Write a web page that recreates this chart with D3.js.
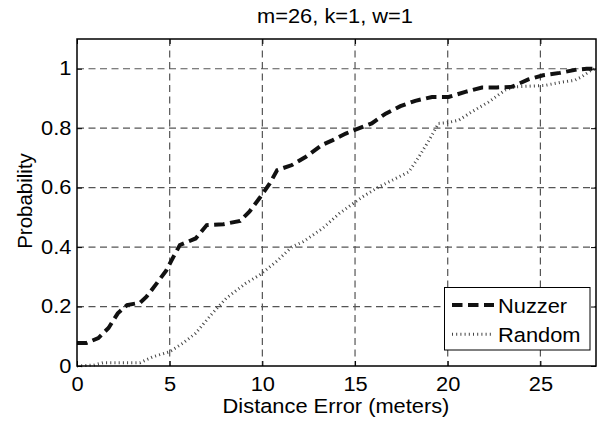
<!DOCTYPE html>
<html lang="en">
<head>
    <meta charset="UTF-8">
    <title>m=26, k=1, w=1</title>
    <style>
        body { margin: 0; background: #fff; }
        text { font-family: "Liberation Sans", Arial, sans-serif; fill: #000; }
        .grid line { stroke: #555; stroke-width: 1.2; stroke-dasharray: 7,4.5; }
    </style>
    <script src="https://d3js.org/d3.v7.min.js"></script>
</head>
<body>
    <svg width="608" height="425"></svg>
    <script>
        // Data
        const nuzzerX = [0, 0.5, 1.15, 1.7, 2.2, 2.7, 3.4, 3.75, 4.3, 4.8, 5.2, 5.55, 6.4, 7.0, 7.9, 8.8, 9.3, 9.85, 10.4, 10.8, 11.6, 12.35, 13.2, 13.8, 14.5, 15.2, 15.9, 16.65, 17.45, 18.25, 19.15, 20.05, 20.95, 21.85, 22.65, 23.45, 24.35, 25.15, 26.05, 26.95, 27.5, 28];
        const nuzzerY = [0.077, 0.077, 0.094, 0.128, 0.177, 0.205, 0.213, 0.233, 0.278, 0.32, 0.367, 0.407, 0.429, 0.474, 0.477, 0.488, 0.519, 0.565, 0.614, 0.659, 0.676, 0.704, 0.743, 0.76, 0.782, 0.799, 0.816, 0.849, 0.874, 0.892, 0.905, 0.905, 0.922, 0.937, 0.937, 0.939, 0.964, 0.978, 0.986, 0.997, 1.0, 1.0];

        const randomX = [0, 0.9, 1.4, 3.4, 4.1, 5.0, 5.7, 6.4, 7.3, 8.05, 9.1, 9.85, 10.75, 11.6, 12.2, 13.25, 14.15, 15.4, 16.3, 17.2, 17.9, 18.45, 19.0, 19.5, 19.95, 20.6, 21.3, 22.2, 23.1, 23.65, 25.25, 26.15, 26.85, 27.2, 27.75, 28];
        const randomY = [0, 0.003, 0.011, 0.011, 0.031, 0.048, 0.076, 0.11, 0.177, 0.228, 0.278, 0.306, 0.351, 0.401, 0.418, 0.463, 0.513, 0.569, 0.603, 0.631, 0.653, 0.704, 0.76, 0.816, 0.818, 0.827, 0.855, 0.888, 0.928, 0.939, 0.944, 0.955, 0.961, 0.972, 0.995, 1.0];

        const xTicks = [0, 5, 10, 15, 20, 25];
        const yTicks = [0, 0.2, 0.4, 0.6, 0.8, 1];
        const yTickLabels = ["0", "0.2", "0.4", "0.6", "0.8", "1"];

        const plotLeft = 77, plotRight = 596, plotTop = 39, plotBottom = 366;
        const fontSize = 19.5, stretch = 1.12; // the figure text is a bit wider than plain Arial

        const svg = d3.select("svg");

        const x = d3.scaleLinear().domain([0, 28]).range([plotLeft, plotRight]);
        const y = d3.scaleLinear().domain([0, 1.1]).range([plotBottom, plotTop]);

        // grid
        const grid = svg.append("g").attr("class", "grid");
        grid.selectAll(".vx")
            .data(xTicks.filter(d => d > 0))
            .enter().append("line")
            .attr("x1", d => x(d)).attr("x2", d => x(d))
            .attr("y1", plotTop).attr("y2", plotBottom);
        grid.selectAll(".hy")
            .data(yTicks.filter(d => d > 0))
            .enter().append("line")
            .attr("x1", plotLeft).attr("x2", plotRight)
            .attr("y1", d => y(d)).attr("y2", d => y(d));

        // lines
        const line = d3.line().x(d => x(d[0])).y(d => y(d[1]));

        const randomStyle = { color: "#444", width: 3, dash: "1,3.2" };
        const nuzzerStyle = { color: "#111", width: 4, dash: "10.5,5.5" };

        svg.append("path")
            .datum(randomX.map((v, i) => [v, randomY[i]]))
            .attr("d", line)
            .attr("fill", "none")
            .attr("stroke", randomStyle.color)
            .attr("stroke-width", randomStyle.width)
            .attr("stroke-dasharray", randomStyle.dash);

        svg.append("path")
            .datum(nuzzerX.map((v, i) => [v, nuzzerY[i]]))
            .attr("d", line)
            .attr("fill", "none")
            .attr("stroke", nuzzerStyle.color)
            .attr("stroke-width", nuzzerStyle.width)
            .attr("stroke-dasharray", nuzzerStyle.dash);

        // axes (ticks inward, MATLAB style)
        const xAxis = svg.append("g")
            .attr("transform", `translate(0,${plotBottom})`)
            .call(d3.axisBottom(x).tickValues(xTicks).tickSizeInner(-5).tickSizeOuter(0).tickPadding(11));
        const yAxis = svg.append("g")
            .attr("transform", `translate(${plotLeft},0)`)
            .call(d3.axisLeft(y).tickValues(yTicks).tickFormat((d, i) => yTickLabels[i]).tickSizeInner(-5).tickSizeOuter(0).tickPadding(5));
        svg.append("g")
            .attr("transform", `translate(0,${plotTop})`)
            .call(d3.axisTop(x).tickValues(xTicks).tickSizeInner(-5).tickSizeOuter(0).tickFormat(""));
        svg.append("g")
            .attr("transform", `translate(${plotRight},0)`)
            .call(d3.axisRight(y).tickValues(yTicks).tickSizeInner(-5).tickSizeOuter(0).tickFormat(""));

        svg.selectAll(".domain").remove();
        svg.selectAll("g").attr("font-family", null).attr("font-size", null);
        svg.selectAll(".tick line").attr("stroke", "#000");
        svg.selectAll(".tick text")
            .style("font-size", fontSize + "px")
            .attr("transform", `scale(${stretch},1)`);
        xAxis.selectAll("text").attr("dy", "0.71em");

        // box
        svg.append("rect")
            .attr("x", plotLeft).attr("y", plotTop)
            .attr("width", plotRight - plotLeft).attr("height", plotBottom - plotTop)
            .attr("fill", "none").attr("stroke", "#000").attr("stroke-width", 1.5);

        function label(px, py, str, anchor) {
            return svg.append("text")
                .attr("transform", `translate(${px},${py}) scale(${stretch},1)`)
                .attr("text-anchor", anchor || "middle")
                .style("font-size", fontSize + "px")
                .text(str);
        }

        // title and axis labels
        label(335, 23, "m=26, k=1, w=1");
        label(336, 413, "Distance Error (meters)");
        svg.append("text")
            .attr("transform", `translate(32,201) rotate(-90)`)
            .attr("text-anchor", "middle").style("font-size", "20.5px")
            .text("Probability");

        // legend
        const lg = svg.append("g");
        lg.append("rect")
            .attr("x", 444.5).attr("y", 287.5).attr("width", 145.5).attr("height", 62.5)
            .attr("fill", "#fff").attr("stroke", "#000").attr("stroke-width", 1);
        const legendItems = [
            Object.assign({ name: "Nuzzer" }, nuzzerStyle),
            Object.assign({ name: "Random" }, randomStyle)
        ];
        legendItems.forEach((d, i) => {
            const yy = 305 + i * 29.3;
            lg.append("line")
                .attr("x1", 452).attr("x2", 494).attr("y1", yy).attr("y2", yy)
                .attr("stroke", d.color).attr("stroke-width", d.width)
                .attr("stroke-dasharray", d.dash);
            label(498, yy + 7.5, d.name, "start");
        });
    </script>
</body>
</html>
